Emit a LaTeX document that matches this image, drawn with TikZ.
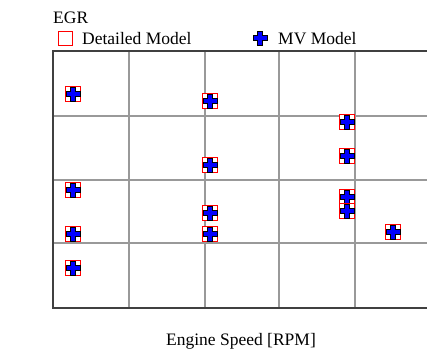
\documentclass[tikz,border=0pt]{standalone}
\usepackage{fontspec}
\setmainfont{Liberation Serif}
\tikzset{
  gridline/.style={draw=black!40, line width=1.2pt},
  frameline/.style={draw=black!75, line width=1.4pt},
  txtlabel/.style={font=\fontsize{17.5}{20}\selectfont, inner sep=0pt, anchor=base west},
  detailed/.style={draw=red, line width=0.9pt, fill=white},
  mvcross/.style={draw=black, fill=blue, line width=0.9pt},
}
% one data point: red square with the blue cross on top
\newcommand{\egrpoint}[2]{%
  \draw[detailed] (#1-7.5,#2-7.5) rectangle (#1+7.5,#2+7.5);
  \draw[mvcross] (#1-2.5,#2-7) -- (#1+2.5,#2-7) -- (#1+2.5,#2-2.5) -- (#1+7,#2-2.5)
    -- (#1+7,#2+2.5) -- (#1+2.5,#2+2.5) -- (#1+2.5,#2+7) -- (#1-2.5,#2+7)
    -- (#1-2.5,#2+2.5) -- (#1-7,#2+2.5) -- (#1-7,#2-2.5) -- (#1-2.5,#2-2.5) -- cycle;
}
\begin{document}
\begin{tikzpicture}[x=1pt, y=-1pt]
\useasboundingbox (0,0) rectangle (427,359);

% grid
\foreach \gx in {129,205,279,355}
  \draw[gridline] (\gx,51) -- (\gx,308);
\foreach \gy in {116,180,243}
  \draw[gridline] (53,\gy) -- (427,\gy);
\draw[frameline] (427,51) -- (53,51) -- (53,308) -- (427,308);

% legend
\node[txtlabel] (title) at (53,23) {EGR};
\draw[detailed] (58,31) rectangle (72,45);
\node[txtlabel] (detlabel) at (82,44) {Detailed Model};
\draw[mvcross] (257.5,31) -- (262.5,31) -- (262.5,35.5) -- (267,35.5) -- (267,40.5) -- (262.5,40.5)
  -- (262.5,45) -- (257.5,45) -- (257.5,40.5) -- (253,40.5) -- (253,35.5) -- (257.5,35.5) -- cycle;
\node[txtlabel] (mvlabel) at (278,44) {MV Model};

% data
\foreach \px/\py in {73/94, 73/190, 73/234, 73/268,
                     210/101, 210/165, 210/213, 210/234,
                     347/122, 347/156, 347/197, 347/211,
                     393/232}
  {\egrpoint{\px}{\py}}

\node[txtlabel, anchor=base] (xlabel) at (241,345) {Engine Speed [RPM]};
\end{tikzpicture}
\end{document}
